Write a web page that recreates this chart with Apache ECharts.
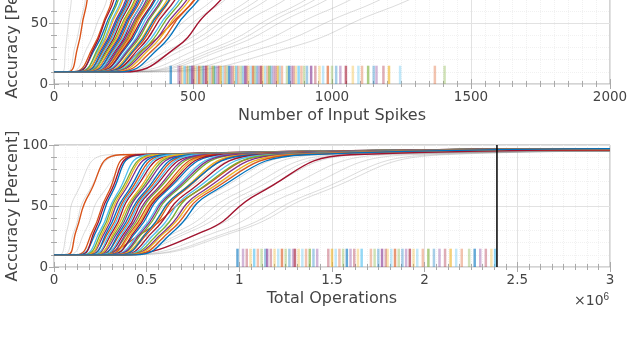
<!DOCTYPE html>
<html>
<head>
<meta charset="utf-8">
<script src="https://cdn.jsdelivr.net/npm/echarts@6/dist/echarts.min.js"></script>
<style>
  html, body { margin: 0; padding: 0; background: #fff; }
  #chart { width: 627px; height: 359px; }
</style>
</head>
<body>
<div id="chart"></div>
<script>
const LEVELS = [10, 30, 60, 92]
const CHANCE_ACC = 10
const COLORED_PLATEAU = 97
const GRAY_PLATEAU = 95
const RUG_HEIGHT = 15

const SPIKE_TICKS = [0, 500, 1000, 1500, 2000]
const OPS_TICKS = [0, 0.5, 1, 1.5, 2, 2.5, 3] // x 10^6
const ACC_TICKS = [0, 50, 100]

// top panel: number of input spikes where each curve hits LEVELS
const spikeBand = [
  [70, 140, 195, 270], [75, 150, 210, 300], [80, 145, 200, 290], [85, 165, 225, 320],
  [90, 160, 215, 310], [92, 175, 240, 340], [95, 170, 230, 330], [100, 185, 250, 350],
  [102, 180, 245, 345], [105, 195, 260, 370], [108, 190, 255, 360], [110, 200, 270, 380],
  [115, 210, 280, 390], [118, 205, 275, 385], [120, 220, 290, 410], [125, 215, 285, 400],
  [128, 230, 300, 420], [130, 225, 300, 425], [135, 240, 315, 440], [138, 235, 310, 430],
  [140, 250, 325, 455], [145, 245, 320, 450], [150, 260, 340, 470], [152, 255, 335, 465],
  [155, 270, 350, 490], [160, 280, 365, 500], [165, 275, 360, 495], [170, 290, 380, 520],
  [175, 300, 390, 530], [180, 295, 385, 540], [185, 310, 405, 560], [190, 320, 420, 575],
  [195, 330, 430, 590], [200, 340, 445, 610], [210, 350, 455, 620], [220, 365, 470, 640],
  [235, 380, 485, 660]
]
const spikeOutliers = [[50, 85, 112, 160], [165, 330, 470, 640], [250, 440, 560, 760]]
const spikeGray = [
  [30, 42, 58, 85], [45, 75, 105, 150], [60, 120, 175, 260], [80, 170, 250, 380],
  [110, 230, 320, 460], [140, 290, 400, 560], [150, 330, 480, 700], [160, 350, 520, 760],
  [170, 380, 560, 820], [200, 430, 640, 920], [210, 455, 670, 960], [220, 480, 700, 1000],
  [240, 530, 760, 1080], [260, 580, 830, 1170], [270, 605, 860, 1210], [280, 630, 900, 1260],
  [300, 690, 980, 1360], [330, 760, 1080, 1480], [360, 850, 1180, 1600]
]
const spikeRug = [
  420, 448, 455, 462, 470, 478, 483, 490, 497, 503, 510, 516, 522, 530, 536, 541, 548, 555,
  561, 568, 574, 580, 588, 594, 600, 607, 615, 622, 630, 636, 643, 650, 656, 663, 672, 680,
  688, 694, 700, 708, 716, 723, 730, 737, 745, 752, 760, 768, 775, 782, 790, 798, 806, 812,
  820, 838, 846, 855, 862, 870, 880, 890, 900, 910, 925, 940, 955, 968, 985, 1000, 1015,
  1030, 1050, 1075, 1095, 1108, 1130, 1150, 1160, 1185, 1205, 1245, 1370, 1405
]

// bottom panel: total operations (x 10^6) where each curve hits LEVELS
const opsBand = [
  [0.12, 0.21, 0.29, 0.44], [0.13, 0.23, 0.31, 0.47], [0.14, 0.22, 0.30, 0.46], [0.15, 0.25, 0.34, 0.52],
  [0.16, 0.26, 0.35, 0.55], [0.17, 0.28, 0.37, 0.58], [0.17, 0.27, 0.36, 0.56], [0.18, 0.30, 0.40, 0.62],
  [0.19, 0.29, 0.39, 0.60], [0.20, 0.32, 0.42, 0.66], [0.20, 0.31, 0.41, 0.64], [0.21, 0.34, 0.45, 0.70],
  [0.22, 0.35, 0.46, 0.72], [0.22, 0.33, 0.44, 0.68], [0.23, 0.37, 0.49, 0.76], [0.24, 0.36, 0.48, 0.74],
  [0.25, 0.39, 0.51, 0.80], [0.25, 0.38, 0.50, 0.78], [0.26, 0.41, 0.54, 0.84], [0.27, 0.40, 0.53, 0.82],
  [0.28, 0.43, 0.57, 0.88], [0.28, 0.42, 0.56, 0.86], [0.29, 0.45, 0.59, 0.92], [0.30, 0.44, 0.58, 0.90],
  [0.31, 0.47, 0.62, 0.96], [0.32, 0.49, 0.64, 1.00], [0.32, 0.48, 0.63, 0.98], [0.33, 0.51, 0.67, 1.04],
  [0.34, 0.52, 0.68, 1.06], [0.35, 0.51, 0.67, 1.08], [0.36, 0.54, 0.71, 1.12], [0.37, 0.56, 0.73, 1.16],
  [0.38, 0.58, 0.75, 1.20], [0.39, 0.60, 0.78, 1.24], [0.40, 0.61, 0.80, 1.28], [0.42, 0.63, 0.82, 1.32],
  [0.44, 0.65, 0.84, 1.36]
]
const opsOutliers = [[0.07, 0.12, 0.19, 0.36], [0.20, 0.50, 0.75, 1.20], [0.30, 0.82, 1.10, 1.60]]
const opsGray = [
  [0.03, 0.07, 0.12, 0.30], [0.05, 0.11, 0.18, 0.38], [0.08, 0.17, 0.26, 0.50], [0.10, 0.25, 0.40, 0.72],
  [0.15, 0.32, 0.45, 0.80], [0.18, 0.45, 0.68, 1.12], [0.20, 0.42, 0.58, 1.00], [0.22, 0.55, 0.80, 1.32],
  [0.24, 0.58, 0.85, 1.38], [0.25, 0.62, 0.90, 1.45], [0.27, 0.68, 0.98, 1.55], [0.29, 0.72, 1.03, 1.60],
  [0.30, 0.75, 1.08, 1.66], [0.32, 0.82, 1.18, 1.80], [0.35, 0.90, 1.28, 1.92], [0.38, 0.97, 1.38, 2.04],
  [0.40, 1.00, 1.42, 2.10]
]
const opsRug = [
  0.99, 1.02, 1.04, 1.06, 1.08, 1.10, 1.12, 1.14, 1.15, 1.17, 1.19, 1.21, 1.23, 1.25, 1.27, 1.29,
  1.30, 1.32, 1.34, 1.36, 1.38, 1.40, 1.42, 1.48, 1.50, 1.52, 1.54, 1.56, 1.58, 1.60, 1.62, 1.64,
  1.66, 1.71, 1.73, 1.75, 1.77, 1.79, 1.80, 1.82, 1.84, 1.86, 1.88, 1.90, 1.92, 1.94, 1.96, 1.99,
  2.02, 2.05, 2.08, 2.11, 2.14, 2.17, 2.20, 2.24, 2.27, 2.30, 2.33, 2.36, 2.38
]
const OPS_BUDGET = 2.39

const MATLAB = ['#0072BD', '#D95319', '#EDB120', '#7E2F8E', '#77AC30', '#4DBEEE', '#A2142F']
const OUTLIER_COLORS = ['#D95319', '#D95319', '#A2142F']
const GRAY = 'rgba(150, 150, 150, 0.42)'
const TEXT = '#444'
const FONT = '"DejaVu Sans", sans-serif'
const AXIS_COLOR = '#a9a9a9'

const chart = echarts.init(document.getElementById('chart'), null, { renderer: 'canvas' })

function curve(row, xMax, plateau, axis, color, width) {
  const data = [[0, CHANCE_ACC]]
  row.forEach((x, k) => data.push([x, LEVELS[k]]))
  data.push([xMax, plateau])
  return {
    type: 'line',
    xAxisIndex: axis,
    yAxisIndex: axis,
    data,
    smooth: 0.5,
    showSymbol: false,
    silent: true,
    lineStyle: { color, width },
    z: 2
  }
}

function rug(xs, axis) {
  return {
    type: 'custom',
    xAxisIndex: axis,
    yAxisIndex: axis,
    silent: true,
    z: 3,
    data: xs.map((x) => [x]),
    renderItem(params, api) {
      const p0 = api.coord([api.value(0), 0])
      const p1 = api.coord([api.value(0), RUG_HEIGHT])
      return {
        type: 'rect',
        shape: { x: p0[0] - 1.25, y: p1[1], width: 2.5, height: p0[1] - p1[1] },
        style: { fill: MATLAB[(params.dataIndex * 3) % 7], opacity: params.dataIndex % 4 === 0 ? 0.6 : 0.35 }
      }
    }
  }
}

function panelSeries(band, outliers, gray, xMax, axis) {
  const out = []
  gray.forEach((r) => out.push(curve(r, xMax, GRAY_PLATEAU, axis, GRAY, 0.8)))
  outliers.forEach((r, i) => out.push(curve(r, xMax, GRAY_PLATEAU + 1, axis, OUTLIER_COLORS[i], 1.4)))
  band.forEach((r, i) => out.push(curve(r, xMax, COLORED_PLATEAU, axis, MATLAB[(band.length - 1 - i) % 7], 1.3)))
  return out
}

const tickLabel = { color: TEXT, fontSize: 13.5, fontFamily: FONT, formatter: (v) => String(v) }
const nameStyle = { color: TEXT, fontSize: 16, fontFamily: FONT }

function mainX(ticks, grid, name, minor) {
  return {
    type: 'value', gridIndex: grid, position: 'bottom',
    min: ticks[0], max: ticks[ticks.length - 1], interval: ticks[1] - ticks[0],
    name, nameLocation: 'middle', nameGap: 24, nameTextStyle: nameStyle, nameMoveOverlap: false,
    axisLine: { show: false },
    axisTick: { inside: true, length: 5, lineStyle: { color: AXIS_COLOR } },
    minorTick: { show: true, splitNumber: minor, length: 3, lineStyle: { color: AXIS_COLOR } },
    axisLabel: { ...tickLabel, margin: 6 },
    splitLine: { show: true, lineStyle: { color: '#e2e2e2', width: 1 } },
    minorSplitLine: { show: true, lineStyle: { color: '#f1f1f1', width: 1, type: 'dotted' } }
  }
}
function edgeX(ticks, grid, minor) {
  return {
    type: 'value', gridIndex: grid, position: 'top',
    min: ticks[0], max: ticks[ticks.length - 1], interval: ticks[1] - ticks[0],
    axisLine: { show: false },
    axisTick: { inside: true, length: 5, lineStyle: { color: AXIS_COLOR } },
    minorTick: { show: true, splitNumber: minor, length: 3, lineStyle: { color: AXIS_COLOR } },
    axisLabel: { show: false },
    splitLine: { show: false }
  }
}
function mainY(grid) {
  return {
    type: 'value', gridIndex: grid, position: 'left',
    min: ACC_TICKS[0], max: ACC_TICKS[ACC_TICKS.length - 1], interval: ACC_TICKS[1] - ACC_TICKS[0],
    name: 'Accuracy [Percent]', nameLocation: 'middle', nameGap: 33, nameTextStyle: nameStyle,
    nameMoveOverlap: false,
    axisLine: { show: false },
    axisTick: { inside: true, length: 5, lineStyle: { color: AXIS_COLOR } },
    minorTick: { show: true, splitNumber: 5, length: 3, lineStyle: { color: AXIS_COLOR } },
    axisLabel: { ...tickLabel, margin: 6 },
    splitLine: { show: true, lineStyle: { color: '#e2e2e2', width: 1 } },
    minorSplitLine: { show: true, lineStyle: { color: '#f1f1f1', width: 1, type: 'dotted' } }
  }
}
function edgeY(grid) {
  return {
    type: 'value', gridIndex: grid, position: 'right',
    min: ACC_TICKS[0], max: ACC_TICKS[ACC_TICKS.length - 1], interval: ACC_TICKS[1] - ACC_TICKS[0],
    axisLine: { show: false },
    axisTick: { inside: true, length: 5, lineStyle: { color: AXIS_COLOR } },
    minorTick: { show: true, splitNumber: 5, length: 3, lineStyle: { color: AXIS_COLOR } },
    axisLabel: { show: false },
    splitLine: { show: false }
  }
}

const spikeMax = SPIKE_TICKS[SPIKE_TICKS.length - 1]
const opsMax = OPS_TICKS[OPS_TICKS.length - 1]

const series = [
  ...panelSeries(spikeBand, spikeOutliers, spikeGray, spikeMax, 0),
  rug(spikeRug, 0),
  ...panelSeries(opsBand, opsOutliers, opsGray, opsMax, 2),
  rug(opsRug, 2),
  {
    type: 'line', xAxisIndex: 2, yAxisIndex: 2, silent: true, showSymbol: false, z: 4,
    data: [[OPS_BUDGET, ACC_TICKS[0]], [OPS_BUDGET, ACC_TICKS[ACC_TICKS.length - 1]]],
    lineStyle: { color: '#000', width: 1.5 }
  }
]

const gridBase = {
  left: 54, width: 556, height: 122, show: true, borderColor: AXIS_COLOR, borderWidth: 1,
  backgroundColor: '#fff', containLabel: false, outerBoundsMode: 'none'
}

chart.setOption({
  animation: false,
  backgroundColor: '#fff',
  textStyle: { fontFamily: FONT },
  grid: [
    { ...gridBase, top: -38 },
    { ...gridBase, top: 145 }
  ],
  xAxis: [
    mainX(SPIKE_TICKS, 0, 'Number of Input Spikes', 10),
    edgeX(SPIKE_TICKS, 0, 10),
    mainX(OPS_TICKS, 1, 'Total Operations', 8),
    edgeX(OPS_TICKS, 1, 8)
  ],
  yAxis: [mainY(0), edgeY(0), mainY(1), edgeY(1)],
  graphic: [{
    type: 'text', left: 574, top: 292,
    style: {
      text: '×10{sup|6}',
      fill: TEXT, font: '14px "DejaVu Sans", sans-serif',
      rich: { sup: { fontSize: 10, verticalAlign: 'top', padding: [0, 0, 8, 0], fill: TEXT } }
    }
  }],
  series
})
</script>
</body>
</html>
